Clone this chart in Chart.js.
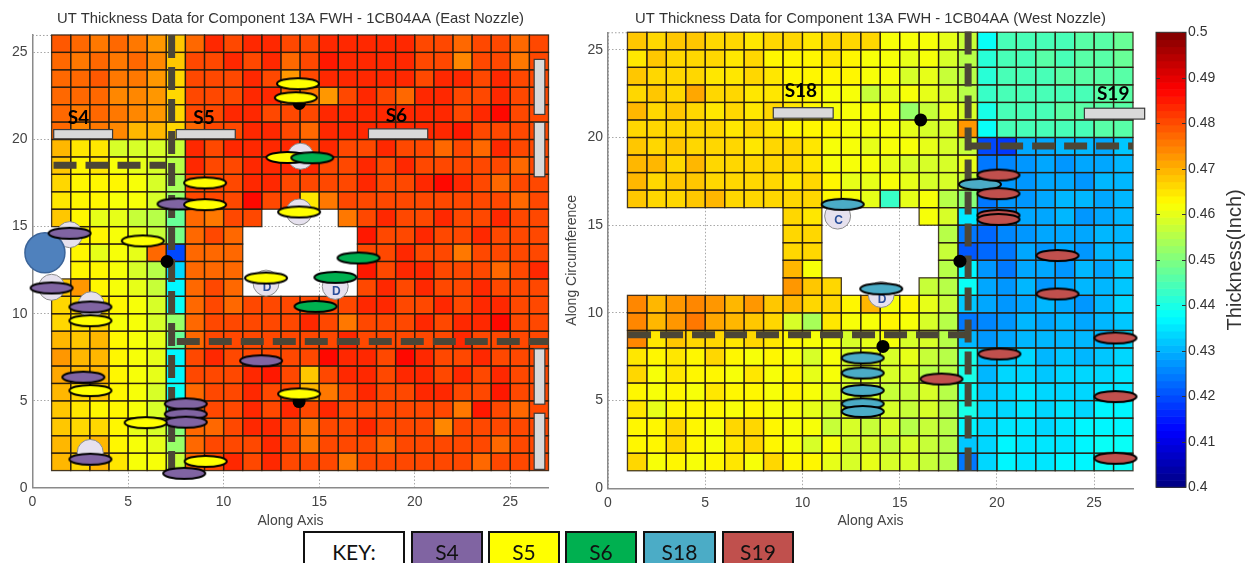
<!DOCTYPE html>
<html>
<head>
<meta charset="utf-8">
<script src="https://cdn.jsdelivr.net/npm/chart.js@4.4.1/dist/chart.umd.min.js"></script>
<style>
  html, body { margin: 0; padding: 0; background: #fff; width: 1249px; height: 563px; overflow: hidden; }
  body { position: relative; }
  canvas { position: absolute; top: 0; }
  #east { left: 0; }
  #west { left: 560px; }
  #cbar { left: 1140px; }
  .key { position: absolute; top: 531px; height: 42px; box-sizing: border-box; border: 2px solid #111;
         font-family: Lato, "Open Sans", sans-serif; font-size: 21px; line-height: 38px; text-align: center; color: #111; }
</style>
</head>
<body>
<canvas id="east" width="570" height="535"></canvas>
<canvas id="west" width="590" height="535"></canvas>
<canvas id="cbar" width="109" height="535"></canvas>
<div id="keys"></div>
<script>
// Wall thickness readings in thousandths of an inch.
// Each row is one band of the grid, listed from the top band (y 25-26) down to y 1-2;
// the 26 columns run along the axis from x = 1 to x = 27. NA = no reading.
const NA = null;

const eastThickness = [
  [479,477,476,477,476,473,468,478,483,480,483,484,481,480,484,483,484,483,484,480,481,477,480,481,477,480],
  [478,476,478,476,477,474,468,480,480,483,480,484,478,480,485,483,484,484,483,480,480,475,480,480,476,480],
  [477,478,479,476,476,473,467,480,480,480,484,480,472,480,484,484,483,484,484,480,483,484,480,484,480,480],
  [478,477,477,475,474,472,466,480,480,480,484,484,478,476,472,480,484,480,477,484,484,480,480,484,480,480],
  [477,476,478,476,475,473,466,480,480,483,484,480,480,480,484,484,484,484,484,484,484,480,484,486,480,480],
  [477,474,476,475,470,470,467,478,480,480,484,484,480,477,484,484,483,483,483,483,484,485,480,480,480,480],
  [470,465,465,458,458,459,457,484,481,484,484,484,484,480,484,480,480,484,480,480,477,480,477,484,480,480],
  [468,464,465,462,460,458,456,484,480,480,484,484,484,484,480,480,484,480,484,480,480,480,480,480,477,480],
  [467,463,464,463,461,459,454,480,480,480,484,484,480,480,480,480,484,480,480,484,486,484,480,477,480,480],
  [465,463,464,462,462,459,452,480,480,480,487,480,480,465,476,480,480,480,480,480,480,480,480,480,477,480],
  [468,463,460,460,457,455,448,478,476,480,480,NA,NA,NA,NA,476,480,484,480,480,484,480,480,484,480,480],
  [NA,464,463,461,460,457,449,477,480,477,NA,NA,NA,NA,NA,NA,485,480,480,484,480,480,484,480,480,480],
  [NA,463,460,462,460,478,420,477,478,477,NA,NA,NA,NA,NA,NA,480,480,484,480,480,476,480,480,480,480],
  [NA,464,463,461,458,455,434,477,478,477,NA,NA,NA,NA,NA,NA,485,480,484,484,480,480,480,477,480,484],
  [468,472,464,462,460,457,437,478,480,477,NA,NA,NA,NA,NA,NA,480,484,480,484,480,480,484,480,480,480],
  [467,466,465,463,461,458,438,478,480,477,480,480,480,480,480,480,484,484,480,480,484,480,484,484,480,480],
  [466,465,466,462,461,458,452,477,480,480,480,480,480,484,480,476,480,480,480,484,480,484,484,486,480,480],
  [470,468,470,464,461,460,447,478,480,480,480,480,480,480,480,484,480,480,480,480,480,484,480,480,480,480],
  [472,469,470,463,462,460,437,480,484,480,480,480,480,480,486,484,484,480,486,484,480,480,484,480,480,480],
  [471,469,469,464,462,460,436,480,480,480,484,485,480,468,480,484,484,480,484,484,480,484,480,484,480,480],
  [469,467,468,463,461,459,438,477,480,480,484,480,480,470,476,480,484,480,480,484,484,480,480,485,480,480],
  [468,465,464,463,461,459,441,477,480,480,484,480,484,480,484,480,480,480,480,480,480,476,485,480,477,480],
  [468,467,466,464,460,458,450,477,477,480,484,484,480,476,480,480,484,480,480,480,475,480,480,480,480,480],
  [470,468,469,463,462,460,452,477,480,480,480,484,480,476,480,480,480,477,480,480,480,480,480,477,480,480],
  [470,466,470,465,462,461,457,477,480,484,480,484,480,480,480,476,480,480,480,480,480,480,477,480,480,480]
];

const westThickness = [
  [468,467,468,468,467,466,465,467,466,465,466,466,467,462,461,461,460,457,439,444,445,445,445,446,446,447],
  [465,468,467,467,466,465,466,464,463,463,465,464,462,462,460,461,459,456,441,444,445,446,445,446,446,447],
  [468,467,466,467,465,465,467,465,464,464,463,463,461,462,458,460,457,456,442,444,445,445,446,446,446,446],
  [467,468,467,471,466,466,465,465,464,463,462,461,457,460,461,460,458,455,443,444,445,445,445,445,446,446],
  [469,467,468,467,465,466,465,466,465,464,462,462,461,462,452,457,460,458,440,444,445,445,446,446,446,446],
  [466,467,466,467,466,465,466,465,464,464,463,461,462,461,460,459,458,472,438,444,444,445,445,445,446,446],
  [468,467,468,466,467,466,465,466,466,465,461,461,460,461,462,460,458,457,420,418,429,429,430,430,429,432],
  [469,469,467,469,467,466,466,466,466,465,462,461,462,460,458,459,458,460,424,426,427,429,428,429,429,431],
  [469,467,468,468,467,467,466,466,465,466,463,460,460,462,460,458,459,457,425,427,428,429,429,428,430,431],
  [468,467,467,468,470,467,466,466,466,467,463,462,460,443,460,461,456,450,425,427,428,429,430,430,429,431],
  [NA,NA,NA,NA,NA,NA,NA,NA,466,465,NA,NA,NA,NA,NA,462,458,435,425,426,429,429,430,428,429,431],
  [NA,NA,NA,NA,NA,NA,NA,NA,466,467,NA,NA,NA,NA,NA,NA,456,425,423,426,428,429,429,429,430,431],
  [NA,NA,NA,NA,NA,NA,NA,NA,466,467,NA,NA,NA,NA,NA,NA,457,421,422,425,429,427,429,428,430,431],
  [NA,NA,NA,NA,NA,NA,NA,NA,470,462,NA,NA,NA,NA,NA,NA,455,437,427,425,429,429,427,430,429,432],
  [NA,NA,NA,NA,NA,NA,NA,NA,472,468,466,NA,NA,NA,NA,457,456,438,429,427,430,428,429,430,431,432],
  [474,470,472,474,472,469,473,468,470,466,466,463,470,462,464,460,457,432,429,427,429,430,429,428,431,433],
  [474,470,472,476,471,469,468,467,458,454,465,462,462,463,461,458,456,425,426,428,430,429,430,429,430,432],
  [474,465,468,466,466,465,467,465,464,462,462,458,460,461,458,459,456,430,428,429,430,431,430,431,431,433],
  [465,463,465,463,466,463,462,464,462,458,462,459,460,458,460,457,455,440,430,432,433,431,432,431,432,434],
  [466,461,465,463,463,461,465,462,463,460,461,458,459,458,458,456,456,440,431,433,434,432,433,433,434,435],
  [464,462,464,462,465,463,463,461,464,461,460,458,458,457,457,458,456,438,432,433,435,433,434,434,435,435],
  [465,460,463,464,463,461,464,462,461,460,459,460,459,458,457,458,455,440,433,434,435,434,435,434,436,437],
  [464,463,466,463,462,466,466,463,462,461,457,458,457,458,456,457,456,436,434,435,435,434,435,436,437,437],
  [464,463,466,464,462,465,466,463,462,458,461,458,458,457,458,457,456,432,434,436,435,435,435,436,438,438],
  [466,462,463,462,463,465,462,466,463,463,460,459,460,458,459,457,456,425,434,436,435,435,436,437,438,438]
];

// Grid placement (upper edge of the first band, left edge of the first column)
const gridTopEdge = 26;
const gridLeftEdge = 1;

// Axis ticks and colour scale
const axisTicks = [0, 5, 10, 15, 20, 25];
const cbarTicks = [0.40, 0.41, 0.42, 0.43, 0.44, 0.45, 0.46, 0.47, 0.48, 0.49, 0.50];

// Indication markers, [along axis, along circumference]
const eastS4 = [[1.94,14.62],[1.0,11.48],[3.03,10.39],[2.66,6.36],[3.03,1.65],[7.64,16.3],[8.02,4.83],[8.02,4.24],[8.02,3.78],[7.94,0.84],[11.96,7.3]];
const eastS5 = [[13.89,23.2],[13.78,22.4],[9.03,17.51],[9.03,16.26],[5.77,14.18],[3.03,9.6],[3.03,5.59],[5.92,3.75],[9.06,1.53],[13.34,18.97],[13.95,15.84],[12.22,12.05],[13.95,5.4]];
const eastS6 = [[14.64,18.95],[17.06,13.2],[15.85,12.09],[14.81,10.42]];
const eastDots = [[7.04,13.0],[13.96,22.07],[13.95,4.96]];
const eastProbe = [[0.65,13.5]];
const eastUfo = [[1.94,14.54],[1.0,11.52],[3.07,10.52],[3.02,2.04],[14.03,19.04],[13.95,15.84],[12.22,11.76],[15.84,11.57]];
const eastUfoGlyphs = ['', '', '', '', '', '', 'D', 'D'];

const westS18 = [[12.07,16.19],[19.13,17.33],[14.05,11.37],[13.1,7.43],[13.1,6.57],[13.1,5.58],[13.1,4.82],[13.1,4.38]];
const westS19 = [[20.08,17.86],[20.08,16.8],[20.08,15.56],[20.08,15.33],[23.12,13.27],[23.12,11.08],[26.1,8.57],[20.13,7.66],[17.15,6.23],[26.1,5.23],[26.1,1.71]];
const westDots = [[16.08,21.0],[18.1,12.95],[14.14,8.09]];
const westUfo = [[11.81,15.52],[14.05,11.05]];
const westUfoGlyphs = ['C', 'D'];

// Dashed boundary guides, each a polyline
const eastGuides = [[[7.28,26],[7.28,1]], [[1.1,18.52],[7.0,18.52]], [[7.55,8.41],[27,8.41]]];
const westGuides = [[[18.52,26.05],[18.52,0.9]], [[1.03,8.76],[18.52,8.76]], [[18.52,19.52],[27,19.52]]];

// Section bars [x0, x1, y0, y1] and their labels [text, x, y]
const eastBars = [[1.11,4.19,20.04,20.57],[7.52,10.61,20.04,20.57],[17.58,20.68,20.04,20.61],
                  [26.25,26.81,21.44,24.6],[26.25,26.81,17.86,20.99],[26.25,26.81,4.81,7.99],[26.25,26.81,1.07,4.29]];
const eastBarLabels = [['S4',2.41,21.25],['S5',8.97,21.25],['S6',19.04,21.34]];
const westBars = [[8.5,11.58,21.1,21.7],[24.5,27.6,21.05,21.67]];
const westBarLabels = [['S18',9.92,22.65],['S19',25.98,22.47]];

// Key
const keyLabels = ['KEY:', 'S4', 'S5', 'S6', 'S18', 'S19'];
const keyColors = ['#ffffff', '#8064a2', '#ffff00', '#00b050', '#4bacc6', '#c0504d'];
const keyLefts = [303, 411, 488, 565, 643, 722];
const keyWidths = [102, 72, 72, 72, 73, 72];

const cbarMin = cbarTicks[0], cbarMax = cbarTicks[cbarTicks.length - 1];

// MATLAB-style jet colour map with 64 levels
function jetColor(v) {
  let t = (v - cbarMin) / (cbarMax - cbarMin);
  t = Math.min(Math.max(t, 0), 1);
  const k = Math.min(Math.floor(t * 64), 63);
  const q = (k + 0.5) / 64;
  const f = a => Math.round(255 * Math.min(Math.max(a, 0), 1));
  return 'rgb(' + f(1.5 - Math.abs(4 * q - 3)) + ',' + f(1.5 - Math.abs(4 * q - 2)) + ',' + f(1.5 - Math.abs(4 * q - 1)) + ')';
}

function ellipseImage(fill) {
  const c = document.createElement('canvas');
  c.width = 46; c.height = 15;
  const g = c.getContext('2d');
  g.beginPath();
  g.ellipse(23, 7.5, 21, 5.6, 0, 0, Math.PI * 2);
  g.fillStyle = fill; g.fill();
  g.lineWidth = 2; g.strokeStyle = '#000'; g.stroke();
  return c;
}

const pts = arr => arr.map(([x, y]) => ({x, y}));

// Thickness cells, section bars and labels drawn through the chart scales
function heatmapLayer(grid, bars, labels) {
  return {
    id: 'heatmap',
    beforeDatasetsDraw(chart) {
      const {ctx, chartArea} = chart;
      const xs = chart.scales.x, ys = chart.scales.y;
      ctx.save();
      // dotted upper frame
      ctx.strokeStyle = '#a0a0a0'; ctx.lineWidth = 1; ctx.setLineDash([1.5, 2]);
      ctx.beginPath(); ctx.moveTo(chartArea.left, chartArea.top + 0.5); ctx.lineTo(chartArea.right, chartArea.top + 0.5); ctx.stroke();
      ctx.setLineDash([]);
      const cell = (r, c) => {
        const x0 = xs.getPixelForValue(gridLeftEdge + c), x1 = xs.getPixelForValue(gridLeftEdge + c + 1);
        const y0 = ys.getPixelForValue(gridTopEdge - r), y1 = ys.getPixelForValue(gridTopEdge - r - 1);
        return [x0, y0, x1 - x0, y1 - y0];
      };
      grid.forEach((row, r) => row.forEach((v, c) => {
        if (v === NA) return;
        ctx.fillStyle = jetColor(v / 1000);
        ctx.fillRect(...cell(r, c));
      }));
      ctx.strokeStyle = 'rgba(40,28,14,0.85)'; ctx.lineWidth = 1.3;
      grid.forEach((row, r) => row.forEach((v, c) => {
        if (v === NA) return;
        ctx.strokeRect(...cell(r, c));
      }));
      // section bars
      bars.forEach(([x0, x1, y0, y1]) => {
        const px0 = xs.getPixelForValue(x0), px1 = xs.getPixelForValue(x1);
        const py0 = ys.getPixelForValue(y1), py1 = ys.getPixelForValue(y0);
        ctx.fillStyle = '#d9d9d9'; ctx.fillRect(px0, py0, px1 - px0, py1 - py0);
        ctx.strokeStyle = '#3a3a3a'; ctx.lineWidth = 1.2; ctx.strokeRect(px0, py0, px1 - px0, py1 - py0);
      });
      ctx.fillStyle = '#000'; ctx.font = 'bold 19px Lato, "Open Sans", sans-serif';
      ctx.textAlign = 'center'; ctx.textBaseline = 'middle';
      labels.forEach(([t, x, y]) => ctx.fillText(t, xs.getPixelForValue(x), ys.getPixelForValue(y)));
      ctx.restore();
    },
    afterDatasetDraw(chart, args) {
      const ds = chart.data.datasets[args.index];
      if (!ds.glyphs) return;
      const ctx = chart.ctx;
      ctx.save();
      ctx.fillStyle = '#2b4f9a'; ctx.font = 'bold 12px "Liberation Sans", Arial, sans-serif';
      ctx.textAlign = 'center'; ctx.textBaseline = 'middle';
      args.meta.data.forEach((p, i) => { if (ds.glyphs[i]) ctx.fillText(ds.glyphs[i], p.x + 1, p.y + 5); });
      ctx.restore();
    }
  };
}

function guideSets(guides) {
  return guides.map(g => ({
    data: pts(g), showLine: true, borderColor: '#4b4636', borderWidth: 7, borderDash: [23, 9],
    borderCapStyle: 'butt', pointRadius: 0, order: 60, clip: false
  }));
}
const ufoSet = (data, glyphs) => ({ data: pts(data), glyphs, pointRadius: 13, backgroundColor: '#e6e1ee', borderColor: '#8d8d8d', borderWidth: 1, order: 50, clip: false });
const dotSet = data => ({ data: pts(data), pointRadius: 6.5, backgroundColor: '#000', borderWidth: 0, order: 40, clip: false });
const markSet = (data, color, order) => ({ data: pts(data), pointStyle: ellipseImage(color), pointRadius: 12, order, clip: false });

Chart.defaults.font.family = '"Liberation Sans", Arial, sans-serif';

function mapOptions(title, yWidth, yTitle, pad, titlePad) {
  return {
    responsive: false, animation: false, devicePixelRatio: 1, events: [],
    layout: { padding: pad },
    plugins: {
      legend: { display: false }, tooltip: { enabled: false },
      title: { display: true, text: title, fullSize: false, color: '#333', font: { size: 14.8, weight: 'normal' }, padding: titlePad }
    },
    scales: {
      x: {
        type: 'linear', min: 0, max: 27,
        afterBuildTicks: s => { s.ticks = axisTicks.map(v => ({ value: v })); },
        afterFit: s => { s.height = 44; },
        grid: { color: '#a8a8a8', lineWidth: 1, drawTicks: false },
        border: { color: '#8a8a8a', width: 1.5, dash: [1.5, 2] },
        ticks: { color: '#444', font: { size: 14 }, padding: 6 },
        title: { display: true, text: 'Along Axis', color: '#444', font: { size: 14 }, padding: { top: 0, bottom: 2.4 } }
      },
      y: {
        type: 'linear', min: 0, max: 26,
        afterBuildTicks: s => { s.ticks = axisTicks.map(v => ({ value: v })); },
        afterFit: s => { s.width = yWidth; },
        grid: { color: '#a8a8a8', lineWidth: 1, drawTicks: false },
        border: { color: '#8a8a8a', width: 1.5, dash: [1.5, 2] },
        ticks: { color: '#444', font: { size: 14 }, padding: 5 },
        title: yTitle ? { display: true, text: yTitle, color: '#444', font: { size: 14 }, padding: { top: 3.6, bottom: 0 } } : { display: false }
      }
    }
  };
}

new Chart(document.getElementById('east'), {
  type: 'scatter',
  data: { datasets: [
    ...guideSets(eastGuides),
    ufoSet(eastUfo, eastUfoGlyphs),
    { data: pts(eastProbe), pointRadius: 20, backgroundColor: '#4f81bd', borderColor: '#3b6499', borderWidth: 1.5, order: 45, clip: false },
    dotSet(eastDots),
    markSet(eastS4, keyColors[1], 30),
    markSet(eastS5, keyColors[2], 20),
    markSet(eastS6, keyColors[3], 10)
  ]},
  options: mapOptions('UT Thickness Data for Component 13A FWH - 1CB04AA (East Nozzle)', 32.5, null,
    { left: 0, right: 16, top: 0, bottom: 3 }, { top: 10, bottom: 7.2 }),
  plugins: [heatmapLayer(eastThickness, eastBars, eastBarLabels)]
});

new Chart(document.getElementById('west'), {
  type: 'scatter',
  data: { datasets: [
    ...guideSets(westGuides),
    ufoSet(westUfo, westUfoGlyphs),
    dotSet(westDots),
    markSet(westS18, keyColors[4], 30),
    markSet(westS19, keyColors[5], 20)
  ]},
  options: mapOptions('UT Thickness Data for Component 13A FWH - 1CB04AA (West Nozzle)', 48, 'Along Circumference',
    { left: 0, right: 17, top: 0, bottom: 2.7 }, { top: 10, bottom: 4.5 }),
  plugins: [heatmapLayer(westThickness, westBars, westBarLabels)]
});

// Colour bar
const colorbarLayer = {
  id: 'colorbar',
  beforeDatasetsDraw(chart) {
    const {ctx, chartArea: a} = chart;
    const ys = chart.scales.y;
    ctx.save();
    for (let k = 0; k < 64; k++) {
      const v0 = cbarMin + (cbarMax - cbarMin) * k / 64, v1 = cbarMin + (cbarMax - cbarMin) * (k + 1) / 64;
      const p0 = ys.getPixelForValue(v0), p1 = ys.getPixelForValue(v1);
      ctx.fillStyle = jetColor((v0 + v1) / 2);
      ctx.fillRect(a.left, p1, a.right - a.left, p0 - p1 + 0.6);
    }
    ctx.strokeStyle = '#333'; ctx.lineWidth = 1;
    ctx.strokeRect(a.left, a.top, a.right - a.left, a.bottom - a.top);
    cbarTicks.forEach(v => {
      const p = Math.round(ys.getPixelForValue(v)) + 0.5;
      ctx.beginPath();
      ctx.moveTo(a.left, p); ctx.lineTo(a.left + 4, p);
      ctx.moveTo(a.right - 4, p); ctx.lineTo(a.right, p);
      ctx.stroke();
    });
    ctx.translate(a.right + 49, (a.top + a.bottom) / 2);
    ctx.rotate(-Math.PI / 2);
    ctx.fillStyle = '#333'; ctx.font = '20px "Liberation Sans", Arial, sans-serif';
    ctx.textAlign = 'center'; ctx.textBaseline = 'middle';
    ctx.fillText('Thickness(Inch)', 0, 0);
    ctx.restore();
  }
};

new Chart(document.getElementById('cbar'), {
  type: 'scatter',
  data: { datasets: [] },
  options: {
    responsive: false, animation: false, devicePixelRatio: 1, events: [],
    layout: { padding: { left: 16, right: 0, top: 32.3, bottom: 47.7 } },
    plugins: { legend: { display: false }, tooltip: { enabled: false } },
    scales: {
      x: { display: false, min: 0, max: 1 },
      y: {
        position: 'right', min: cbarMin, max: cbarMax,
        afterBuildTicks: s => { s.ticks = cbarTicks.map(v => ({ value: v })); },
        afterFit: s => { s.width = 63; },
        grid: { display: false, drawTicks: false }, border: { display: false },
        ticks: { color: '#333', font: { size: 14 }, padding: 2, callback: v => String(+v.toFixed(2)) }
      }
    }
  },
  plugins: [colorbarLayer]
});

// Key boxes
const keys = document.getElementById('keys');
keyLabels.forEach((t, i) => {
  const d = document.createElement('div');
  d.className = 'key';
  d.textContent = t;
  d.style.left = keyLefts[i] + 'px';
  d.style.width = keyWidths[i] + 'px';
  d.style.background = keyColors[i];
  keys.appendChild(d);
});
</script>
</body>
</html>
